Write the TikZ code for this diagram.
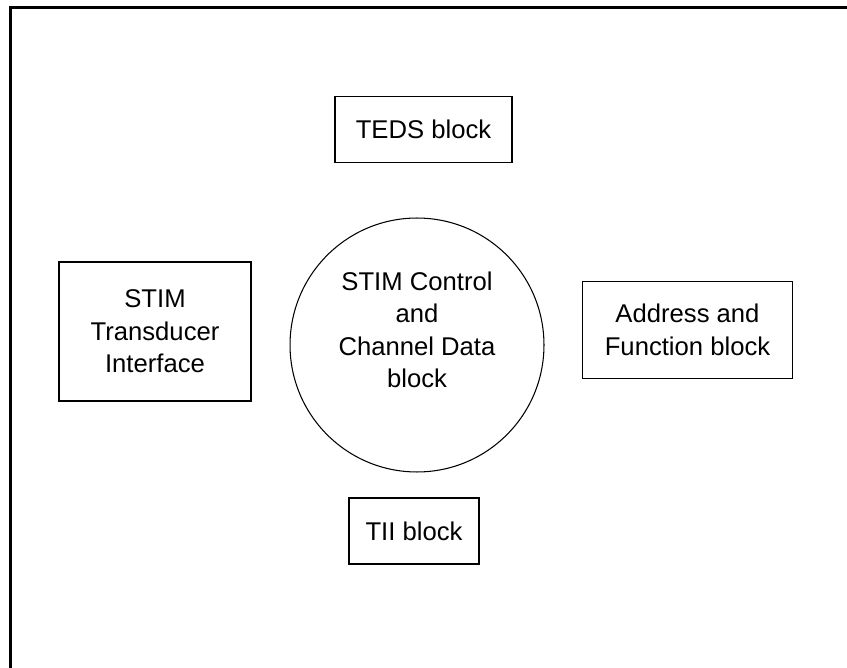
\documentclass[tikz,border=0pt]{standalone}
\usepackage{fontspec}
\setmainfont{Liberation Sans}
\begin{document}
\begin{tikzpicture}[x=0.02cm,y=-0.02cm]
			\useasboundingbox (0,0) rectangle (847,668);
			\draw[line width=1.7pt] (10.5,668) -- (10.5,7.5) -- (847,7.5);
			
			\begin{scope}[every node/.style={draw,line width=0.6pt,align=center,font=\fontsize{14.6}{18.5}\selectfont,inner sep=0pt}]
				\node[minimum width=3.54cm,minimum height=1.32cm] (teds) at (423.5,129.5) {TEDS block};
				\node[minimum width=3.84cm,minimum height=2.78cm] (sti) at (155,331.5) {STIM\\Transducer\\Interface};
				\node[circle,minimum size=5.08cm] (ctrl) at (417,345) {};
				\node[draw=none] (ctrltext) at (417,330) {STIM Control\\and\\Channel Data\\block};
				\node[minimum width=4.2cm,minimum height=1.94cm] (addr) at (687.5,330) {Address and\\Function block};
				\node[minimum width=2.6cm,minimum height=1.32cm] (tii) at (414,531) {TII block};
			\end{scope}
		\end{tikzpicture}
\end{document}
